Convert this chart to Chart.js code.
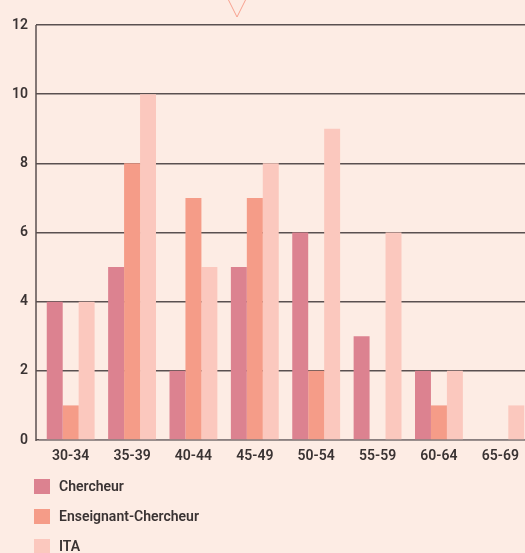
<!DOCTYPE html>
<html>
<head>
<meta charset="utf-8">
<script src="https://cdn.jsdelivr.net/npm/chart.js@4/dist/chart.umd.min.js"></script>
<style>
  html, body { margin: 0; padding: 0; background: #fdece4; overflow: hidden; }
  #wrap { width: 531px; height: 553px; }
</style>
</head>
<body>
<div id="wrap"><canvas id="c" width="531" height="553"></canvas></div>
<script>
// Age brackets and head counts per staff category
const ageGroups = ['30-34', '35-39', '40-44', '45-49', '50-54', '55-59', '60-64', '65-69'];
const chercheur = [4, 5, 2, 5, 6, 3, 2, 0];
const enseignantChercheur = [1, 8, 7, 7, 2, 0, 1, 0];
const ita = [4, 10, 5, 8, 9, 6, 2, 1];
const yTicks = [0, 2, 4, 6, 8, 10, 12];

const seriesNames = ['Chercheur', 'Enseignant-Chercheur', 'ITA'];
const seriesColors = ['#dc8290', '#f59c88', '#fbc8be'];
const inkColor = '#3a3333';
const gridColor = '#5a5050';
const fontFamily = 'Roboto, "DejaVu Sans", sans-serif';

// Axis line on the left, the small marker at the top, and a stacked legend below
const decorations = {
  id: 'decorations',
  afterDraw(chart) {
    const { ctx, chartArea } = chart;
    const yScale = chart.scales.y;
    ctx.save();
    // vertical axis line
    ctx.strokeStyle = gridColor;
    ctx.lineWidth = 1.5;
    ctx.beginPath();
    ctx.moveTo(chartArea.left - 4, yScale.getPixelForValue(12));
    ctx.lineTo(chartArea.left - 4, yScale.getPixelForValue(0) + 1);
    ctx.stroke();

    // downward marker at the top
    ctx.strokeStyle = '#f7a08e';
    ctx.lineWidth = 1;
    ctx.beginPath();
    ctx.moveTo(228, -1);
    ctx.lineTo(237, 17);
    ctx.lineTo(246, -1);
    ctx.stroke();

    // legend
    ctx.font = '600 14px ' + fontFamily;
    ctx.textBaseline = 'middle';
    chart.data.datasets.forEach((ds, i) => {
      const top = 479 + i * 30;
      ctx.fillStyle = ds.backgroundColor;
      ctx.fillRect(34, top, 16, 15);
      ctx.fillStyle = inkColor;
      ctx.fillText(ds.label, 59, top + 8);
    });
    ctx.restore();
  }
};

new Chart(document.getElementById('c'), {
  type: 'bar',
  data: {
    labels: ageGroups,
    datasets: [
      { label: seriesNames[0], data: chercheur, backgroundColor: seriesColors[0] },
      { label: seriesNames[1], data: enseignantChercheur, backgroundColor: seriesColors[1] },
      { label: seriesNames[2], data: ita, backgroundColor: seriesColors[2] }
    ]
  },
  options: {
    responsive: false,
    animation: false,
    devicePixelRatio: 1,
    layout: { padding: { top: 25, right: 0, bottom: 89, left: 0 } },
    datasets: {
      bar: { categoryPercentage: 0.78, barPercentage: 1.0, borderWidth: 0 }
    },
    plugins: {
      legend: { display: false },
      tooltip: { enabled: false }
    },
    scales: {
      x: {
        grid: { display: false },
        border: { display: true, color: '#8a8080', width: 1.5 },
        ticks: {
          color: inkColor,
          font: { family: fontFamily, size: 14, weight: '600' },
          padding: 0,
          maxRotation: 0
        },
        afterFit(scale) { scale.height = 24; }
      },
      y: {
        min: 0,
        max: 12,
        afterBuildTicks(scale) { scale.ticks = yTicks.map(v => ({ value: v })); },
        grid: { color: gridColor, lineWidth: 1.5, drawTicks: true, tickLength: 4 },
        border: { display: false },
        ticks: {
          color: inkColor,
          font: { family: fontFamily, size: 14, weight: '600' },
          padding: 8
        },
        afterFit(scale) { scale.width = 40; }
      }
    }
  },
  plugins: [decorations]
});
</script>
</body>
</html>
